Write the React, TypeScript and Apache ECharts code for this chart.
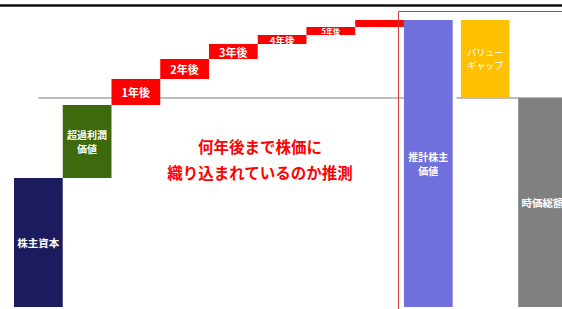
import React, { useEffect, useRef } from "react";
import * as echarts from "echarts";

// Waterfall steps (left part)
const categoriesA = ["株主資本", "超過利潤価値", "1年後", "2年後", "3年後", "4年後", "5年後", "6年後以降", "推計株主価値"];
const barLabelsA = ["株主資本", "超過利潤\n価値", "1年後", "2年後", "3年後", "4年後", "5年後", "", "推計株主\n価値"];
const stepValues = [129, 73, 26, 20, 15, 9, 8, 7];
const estimatedShareholderValue = 287;

// Right part
const categoriesB = ["バリューギャップ", "時価総額"];
const barLabelsB = ["バリュー\nギャップ", "時価総額"];
const marketCap = 209;

const annotation = "何年後まで株価に\n織り込まれているのか推測";

const FONT = '"Noto Sans CJK JP", "Noto Sans", sans-serif';
const CHART_W = 580;

export default function App() {
  const ref = useRef<HTMLDivElement>(null);

  useEffect(() => {
    if (!ref.current) return;
    const chart = echarts.init(ref.current, undefined, { renderer: "svg" });

    const basesA: number[] = [];
    let acc = 0;
    stepValues.forEach((v) => {
      basesA.push(acc);
      acc += v;
    });
    basesA.push(0);
    const valuesA = [...stepValues, estimatedShareholderValue];

    const colorsA = ["#1b1b5e", "#3d6a0c", "#ff0000", "#ff0000", "#ff0000", "#ff0000", "#ff0000", "#ff0000", "#7070dc"];
    const sizesA = [10.5, 10, 11, 11, 11, 9.5, 7, 7, 10];

    const basesB = [marketCap, 0];
    const valuesB = [estimatedShareholderValue - marketCap, marketCap];
    const colorsB = ["#ffc000", "#808080"];
    const sizesB = [9, 10.5];

    const labelStyle = (text: string, size: number, bold = true) => ({
      show: text !== "",
      position: "inside",
      formatter: text,
      color: "#ffffff",
      fontWeight: bold ? "bold" : "normal",
      fontSize: size,
      lineHeight: Math.round(size * 1.4),
      fontFamily: FONT,
    });

    const refLine = {
      silent: true,
      symbol: "none",
      z: 0,
      label: { show: false },
      lineStyle: { color: "#a6a6a6", width: 1.5, type: "solid" },
    };

    const option: any = {
      animation: false,
      grid: [
        { left: 14, right: CHART_W - 452.7, top: 7, bottom: 2 },
        { left: 456.5, right: CHART_W - 571.1, top: 7, bottom: 2 },
      ],
      xAxis: [
        { type: "category", gridIndex: 0, data: categoriesA, show: false },
        { type: "category", gridIndex: 1, data: categoriesB, show: false },
      ],
      yAxis: [
        { type: "value", gridIndex: 0, min: 0, max: 300, show: false, splitLine: { show: false } },
        { type: "value", gridIndex: 1, min: 0, max: 300, show: false, splitLine: { show: false } },
      ],
      series: [
        {
          type: "bar",
          xAxisIndex: 0,
          yAxisIndex: 0,
          stack: "a",
          barCategoryGap: "0%",
          z: 1,
          itemStyle: { color: "transparent" },
          data: basesA,
          silent: true,
          markLine: {
            ...refLine,
            data: [[{ coord: [0, marketCap] }, { coord: [categoriesA.length - 1, marketCap] }]],
          },
        },
        {
          type: "bar",
          xAxisIndex: 0,
          yAxisIndex: 0,
          stack: "a",
          barCategoryGap: "0%",
          z: 3,
          data: valuesA.map((v, i) => ({
            value: v,
            itemStyle: { color: colorsA[i] },
            label: labelStyle(barLabelsA[i], sizesA[i]),
          })),
        },
        {
          type: "bar",
          xAxisIndex: 1,
          yAxisIndex: 1,
          stack: "b",
          barWidth: 48.5,
          z: 1,
          itemStyle: { color: "transparent" },
          data: basesB,
          silent: true,
          markLine: {
            ...refLine,
            data: [{ yAxis: marketCap }],
          },
        },
        {
          type: "bar",
          xAxisIndex: 1,
          yAxisIndex: 1,
          stack: "b",
          barWidth: 48.5,
          z: 3,
          data: valuesB.map((v, i) => ({
            value: v,
            itemStyle: { color: colorsB[i] },
            label: labelStyle(barLabelsB[i], sizesB[i], i === 1),
          })),
        },
      ],
      graphic: [
        {
          type: "line",
          shape: { x1: 0, y1: 5.5, x2: CHART_W, y2: 5.5 },
          style: { stroke: "#111111", lineWidth: 2.5 },
          z: 10,
        },
        {
          type: "rect",
          shape: { x: 398.5, y: 11.5, width: 200, height: 310 },
          style: { fill: "none", stroke: "#d03c3c", lineWidth: 1 },
          z: 10,
        },
        {
          type: "text",
          x: 260,
          y: 159,
          style: {
            text: annotation,
            fill: "#ff0000",
            fontSize: 15.5,
            fontWeight: "bold",
            fontFamily: FONT,
            lineHeight: 26,
            align: "center",
            verticalAlign: "middle",
          },
          z: 10,
        },
      ],
    };

    chart.setOption(option);
    return () => chart.dispose();
  }, []);

  return (
    <div style={{ position: "absolute", left: 0, top: 0, width: 562, height: 309, overflow: "hidden", background: "#ffffff" }}>
      <div ref={ref} style={{ width: CHART_W, height: 309 }} />
    </div>
  );
}
